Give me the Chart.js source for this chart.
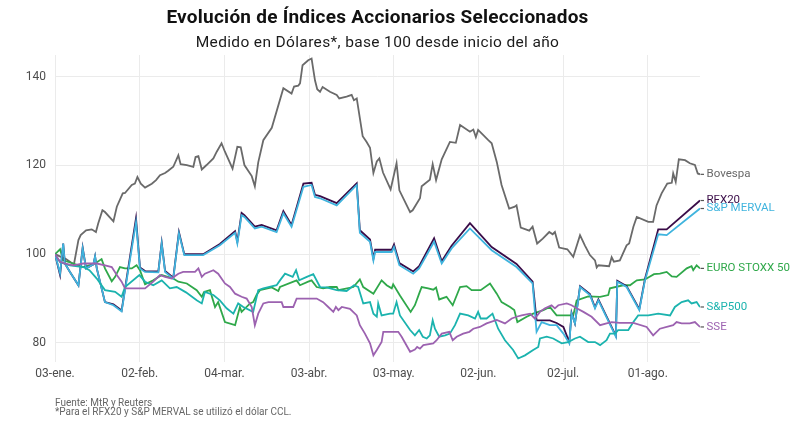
<!DOCTYPE html>
<html><head><meta charset="utf-8">
<script src="https://cdn.jsdelivr.net/npm/chart.js@4.4.1/dist/chart.umd.min.js"></script>
<style>html,body{margin:0;padding:0;background:#fff}#wrap{width:800px;height:427px;position:relative}</style>
</head><body><div id="wrap"><canvas id="c" width="800" height="427"></canvas></div>
<script>
// Days counted from 03-ene.
const tickDays = [0,30,60,90,120,150,180,210];
const tickLabels = ['03-ene.','02-feb.','04-mar.','03-abr.','03-may.','02-jun.','02-jul.','01-ago.'];
const yTicks = [80,100,120,140];

const bovespaDays = [0,3.9,6.7,8.3,9.1,11.0,13.0,14.5,15.3,16.8,17.7,20.7,21.9,24.0,24.8,27.2,28.3,29.2,30.4,31.9,34.3,35.8,37.2,39.0,40.1,41.9,43.7,44.5,46.7,49.0,49.8,50.8,52.0,53.7,56.1,57.3,59.0,60.2,62.9,64.6,65.8,67.1,69.7,70.8,72.0,73.8,76.8,80.9,83.8,84.7,86.2,86.8,87.7,89.7,90.9,92.1,92.9,93.9,94.8,97.4,99.8,100.7,103.3,105.1,105.9,106.9,109.0,110.4,111.6,112.8,114.0,114.9,116.2,118.9,121.0,122.0,125.8,126.7,129.3,129.9,132.8,133.8,135.0,137.0,139.9,142.0,143.5,147.0,148.2,149.1,149.9,153.5,154.7,156.5,158.2,160.9,162.9,163.5,165.0,168.0,169.2,170.8,172.8,175.1,176.3,177.1,178.6,181.5,183.6,186.0,187.7,189.5,191.3,191.9,192.5,196.3,197.2,198.0,200.1,202.5,203.4,204.9,206.1,210.2,211.9,213.1,214.9,216.9,218.5,219.0,219.9,221.0,223.2,224.9,226.7,227.7,228.5];
const bovespaValues = [100,98.9,97.7,103.2,104.3,105.4,105.6,105.0,106.9,109.9,109.5,107.4,110.7,113.7,113.8,115.6,115.9,117.4,115.9,115.0,115.9,116.7,117.8,118.3,118.8,119.7,122.3,120.3,120.1,119.7,121.9,122.1,119.1,120.1,121.6,123.1,125.0,123.1,119.3,124.2,124.1,120.1,117.6,115.3,120.7,125.7,128.5,137.4,136.2,137.8,138.0,138.5,142.6,143.7,144.1,139.2,137.2,136.6,137.7,136.6,135.9,135.1,135.5,135.9,134.7,135.1,126.6,125.3,124.0,118.3,120.9,121.6,118.4,114.6,120.5,114.4,109.5,109.9,112.6,115.3,116.8,120.3,116.7,121.4,125.3,125.1,129.1,127.6,128.1,126.4,128.0,125.7,125.0,120.8,115.6,110.3,110.7,111.0,106.0,105.3,106.2,102.4,103.5,105.0,104.5,105.0,101.5,101.1,99.4,104.3,102.0,99.8,98.6,97.0,97.5,97.3,99.3,98.3,98.6,102.0,102.4,106.2,108.4,107.3,107.3,111.0,113.7,115.9,116.1,118.2,116.3,121.4,121.2,120.5,120.1,118.2,118.0];

const argDays = [0,1.8,2.9,3.5,5.3,8.3,9.8,11.0,13.6,14.2,14.8,17.7,20.7,23.6,28.7,30.1,31.9,36.6,37.8,39.0,41.9,43.9,45.8,52.5,58.4,63.8,64.6,66.1,67.1,70.8,73.2,78.5,80.9,83.8,88.0,90.9,92.1,93.9,99.8,106.9,108.0,111.6,112.8,113.4,119.3,120.1,122.0,126.9,129.0,134.3,137.0,140.5,147.0,154.7,163.5,169.2,170.6,172.4,175.3,177.7,180.1,182.2,183.0,184.2,186.0,189.5,191.3,192.5,198.7,199.2,202.5,207.0,209.0,213.7,216.7,228.5];
const rfx20Values = [100,95.3,102.4,97.9,96.0,93.0,101.5,96.8,97.7,99.5,96.8,89.2,88.7,87.3,108.1,97.0,96.2,96.1,102.6,96.2,94.7,105.0,100.0,100.0,102.3,105.2,102.8,109.3,108.8,106.2,106.6,105.4,109.7,106.6,115.9,116.1,113.4,113.1,111.5,116.0,105.4,103.3,99.0,101.0,101.0,102.2,98.0,96.1,97.3,103.6,98.4,101.9,107.0,101.6,97.8,93.8,85.1,85.1,85.1,84.5,83.6,80.2,86.8,84.4,92.8,91.0,88.0,89.8,81.6,94.0,92.8,87.6,94.4,105.6,105.6,112.1];
const mervalValues = [100,95.7,102.4,97.9,96.0,93.0,101.3,96.8,97.7,99.5,96.8,89.2,88.5,87.1,107.2,96.8,96.0,95.9,102.4,96.0,94.5,104.7,99.8,99.8,102.0,104.8,102.4,108.8,108.4,105.8,106.2,105.0,109.2,106.2,115.2,115.6,112.9,112.6,111.0,115.6,104.8,102.8,98.6,100.5,100.5,101.6,97.5,95.6,96.8,102.8,97.9,101.3,105.8,100.9,97.1,93.4,82.5,84.7,84.0,84.0,82.1,79.9,86.6,84.4,92.6,90.8,87.8,89.6,81.4,93.8,92.6,87.4,94.1,104.5,104.3,110.3];

const euroDays = [0,1.8,2.9,6.5,10.0,14.2,16.5,17.7,20.1,21.3,23.0,24.8,27.2,28.9,30.1,31.9,34.8,37.8,41.9,43.7,46.7,50.2,52.0,52.8,54.9,56.7,57.8,60.2,63.8,65.5,66.1,69.1,70.2,71.4,72.6,76.8,79.1,79.7,85.6,86.8,89.7,90.9,92.7,95.0,97.4,99.8,100.4,105.7,108.0,109.2,112.8,115.7,117.5,119.3,119.8,122.2,126.0,127.5,129.0,129.9,132.2,134.0,135.0,136.1,138.7,140.9,143.5,145.8,147.6,150.8,154.1,156.5,158.2,161.2,162.7,163.8,167.1,169.4,173.0,175.3,177.7,183.6,184.8,188.9,193.1,196.0,196.6,201.3,203.7,206.1,209.0,212.2,214.3,216.7,218.5,220.2,223.8,225.5,226.1,227.3,228.5];
const euroValues = [100,101.1,98.6,97.9,97.1,97.9,98.9,96.8,93.9,94.9,97.1,96.8,96.8,97.5,96.4,93.2,94.1,95.3,94.5,93.8,93.4,91.9,90.4,91.5,91.9,88.1,89.2,84.7,84.0,88.1,87.0,88.9,89.2,90.8,91.9,92.5,91.7,92.6,94.1,93.0,93.8,94.1,92.6,92.3,92.6,92.6,91.9,92.6,94.3,92.6,91.1,94.1,93.0,92.3,93.2,90.7,87.0,88.5,91.1,92.6,92.3,92.0,92.5,89.8,90.4,88.5,92.6,92.8,91.9,91.9,93.4,91.1,89.2,88.1,87.4,84.7,85.9,86.6,87.4,88.1,86.2,86.2,89.6,90.5,90.4,90.8,92.3,93.0,93.0,94.1,94.3,95.5,95.6,96.0,95.0,94.9,96.8,97.3,96.4,97.5,96.8];

const sp500Days = [0,1.8,5.3,10.0,12.2,14.8,17.7,21.3,23.6,24.8,29.9,31.9,34.8,37.8,40.7,43.1,46.4,50.2,52.0,53.1,56.1,58.4,60.8,63.2,64.9,66.7,70.2,72.0,73.8,78.5,79.7,81.5,84.2,85.4,86.5,89.2,91.5,93.9,96.2,99.8,103.3,105.9,107.4,109.2,111.6,112.8,114.0,114.5,115.7,118.7,119.8,121.0,122.2,125.8,127.5,129.0,130.3,131.7,132.8,133.8,134.6,136.1,138.2,139.9,141.7,143.5,146.4,148.8,149.9,150.8,152.9,155.0,157.0,159.4,162.3,164.1,166.5,169.4,171.2,171.8,174.2,176.5,179.5,181.8,184.2,186.0,188.9,191.3,193.1,195.4,196.6,198.4,199.5,203.1,204.9,206.6,210.2,213.7,217.9,219.6,222.0,224.3,225.5,227.3,228.5];
const sp500Values = [100,98.2,97.5,97.1,96.4,94.5,91.9,91.5,90.4,92.6,95.3,93.8,93.0,94.1,92.3,92.6,91.4,89.6,88.9,91.5,90.8,89.6,87.8,86.6,88.9,88.1,87.0,91.9,92.3,93.0,94.1,95.6,94.9,96.4,94.1,94.9,95.5,92.6,92.5,91.9,91.7,93.0,92.6,88.9,89.2,86.6,85.9,88.9,86.2,86.6,86.6,89.2,86.2,82.9,81.7,82.9,81.4,81.0,81.7,85.1,83.2,81.4,81.7,82.1,84.0,86.6,86.2,85.5,87.0,85.5,85.5,86.6,83.2,80.6,78.4,76.5,77.2,78.4,79.1,81.0,81.4,81.0,79.9,80.2,81.0,81.4,80.2,80.2,79.5,80.6,82.1,82.1,82.9,82.9,84.7,86.2,86.2,86.6,86.2,88.1,89.2,89.6,88.9,89.2,88.1];

const sseDays = [0,1.8,3.5,6.5,10.0,14.8,17.7,20.1,21.9,23.6,24.8,27.7,31.9,34.8,37.2,39.0,41.3,43.7,45.4,49.6,50.8,52.0,53.1,56.1,57.8,60.2,62.0,63.8,66.1,67.9,69.7,70.8,72.0,73.8,75.6,80.3,80.9,84.4,85.6,92.7,95.0,96.8,98.6,99.5,100.4,101.6,104.5,106.9,108.0,109.8,111.6,112.8,114.0,115.7,116.3,121.6,122.8,125.8,127.5,128.3,129.3,130.5,134.0,135.2,137.0,139.7,140.9,142.3,144.6,146.8,148.2,150.5,152.9,156.5,159.4,161.8,163.5,165.3,168.3,170.0,171.8,173.6,175.9,177.1,178.3,181.3,183.0,184.8,187.2,190.1,193.1,195.4,197.2,200.1,204.9,209.6,211.9,214.3,219.0,220.2,222.0,224.9,226.7,228.5];
const sseValues = [100,98.3,97.9,97.5,97.9,97.9,97.5,97.1,95.3,93.8,92.3,92.3,92.3,93.8,95.3,94.9,94.5,95.6,96.0,96.0,96.8,94.9,95.6,96.4,95.6,93.4,92.6,91.1,90.4,90.0,88.1,84.0,86.6,88.9,89.2,89.2,88.1,88.1,90.0,90.0,89.2,88.1,87.0,88.1,87.4,88.1,87.7,86.2,84.0,82.1,79.9,77.2,78.4,80.2,82.5,82.5,81.4,78.0,78.5,79.1,78.7,79.5,79.9,80.6,82.1,82.5,80.6,81.4,82.1,82.5,83.2,83.6,84.4,85.2,84.4,85.5,85.9,86.2,86.6,85.5,87.0,87.8,88.5,87.8,88.5,88.9,88.5,87.8,87.0,85.9,84.0,84.4,84.7,84.5,84.5,83.6,81.7,83.2,84.0,84.7,84.4,84.4,84.7,83.6];

const seriesNames = ['SSE','S&P500','S&P MERVAL','RFX20','EURO STOXX 50','Bovespa'];
const seriesColors = ['#9c62b0','#1bb3ae','#3fb4de','#3a0c48','#2fa84a','#6a6a6a'];
const seriesDays = [sseDays, sp500Days, argDays, argDays, euroDays, bovespaDays];
const seriesValues = [sseValues, sp500Values, mervalValues, rfx20Values, euroValues, bovespaValues];

const titleText = 'Evolución de Índices Accionarios Seleccionados';
const subtitleText = 'Medido en Dólares*, base 100 desde inicio del año';
const footerLines = ['Fuente: MtR y Reuters','*Para el RFX20 y S&P MERVAL se utilizó el dólar CCL.'];

const FONT = 'Roboto, "Noto Sans", sans-serif';

const datasets = seriesNames.map((name, i) => ({
  label: name,
  data: seriesDays[i].map((d, j) => ({x: d, y: seriesValues[i][j]})),
  borderColor: seriesColors[i],
  backgroundColor: seriesColors[i],
  borderWidth: 1.8,
  pointRadius: 0,
  tension: 0,
  fill: false,
  order: i
}));

const textPlugin = {
  id: 'textPlugin',
  afterDraw(chart) {
    const ctx = chart.ctx;
    const ca = chart.chartArea;
    const cx = (ca.left + ca.right) / 2;
    ctx.save();
    ctx.textAlign = 'center';
    ctx.textBaseline = 'alphabetic';
    ctx.fillStyle = '#111';
    ctx.font = 'bold 19px ' + FONT;
    if ('letterSpacing' in ctx) ctx.letterSpacing = '0.25px';
    ctx.fillText(titleText, cx, 23);
    ctx.fillStyle = '#1a1a1a';
    ctx.font = '15.5px ' + FONT;
    if ('letterSpacing' in ctx) ctx.letterSpacing = '0.35px';
    ctx.fillText(subtitleText, cx, 47);
    if ('letterSpacing' in ctx) ctx.letterSpacing = '0px';
    ctx.textAlign = 'left';
    ctx.textBaseline = 'middle';
    ctx.fillStyle = '#666';
    ctx.font = '10px ' + FONT;
    ctx.fillText(footerLines[0], 55, 403);
    ctx.fillText(footerLines[1], 55, 412.5);
    // end labels
    chart.data.datasets.forEach((ds, i) => {
      const meta = chart.getDatasetMeta(i);
      const pt = meta.data[meta.data.length - 1];
      const x = pt.x, y = pt.y;
      ctx.strokeStyle = '#555';
      ctx.lineWidth = 1.2;
      ctx.beginPath();
      ctx.moveTo(x + 0.5, y);
      ctx.lineTo(x + 4, y);
      ctx.stroke();
      ctx.fillStyle = ds.borderColor;
      ctx.font = '11.5px ' + FONT;
      ctx.textAlign = 'left';
      ctx.textBaseline = 'middle';
      ctx.fillText(ds.label, x + 6.5, y);
    });
    ctx.restore();
  }
};

new Chart(document.getElementById('c'), {
  type: 'line',
  data: { datasets },
  options: {
    responsive: false,
    animation: false,
    devicePixelRatio: 1,
    layout: { padding: { top: 55, right: 100, bottom: 35, left: 0 } },
    plugins: { legend: { display: false }, tooltip: { enabled: false }, title: { display: false } },
    scales: {
      x: {
        type: 'linear', min: 0, max: 228.5,
        afterBuildTicks: s => { s.ticks = tickDays.map(v => ({ value: v })); },
        afterFit: s => { s.height = 30; },
        grid: { color: '#ebebeb', lineWidth: 1, drawTicks: false },
        border: { display: false },
        ticks: {
          padding: 5, color: '#4d4d4d', font: { family: FONT, size: 12 }, maxRotation: 0, autoSkip: false,
          callback: v => { const k = tickDays.indexOf(v); return k >= 0 ? tickLabels[k] : ''; }
        }
      },
      y: {
        min: 75.7, max: 144.9,
        afterBuildTicks: s => { s.ticks = yTicks.map(v => ({ value: v })); },
        afterFit: s => { s.width = 55; },
        grid: { color: '#ebebeb', lineWidth: 1, drawTicks: false },
        border: { display: false },
        ticks: { padding: 9, color: '#4d4d4d', font: { family: FONT, size: 12 } }
      }
    }
  },
  plugins: [textPlugin]
});
</script>
</body></html>
